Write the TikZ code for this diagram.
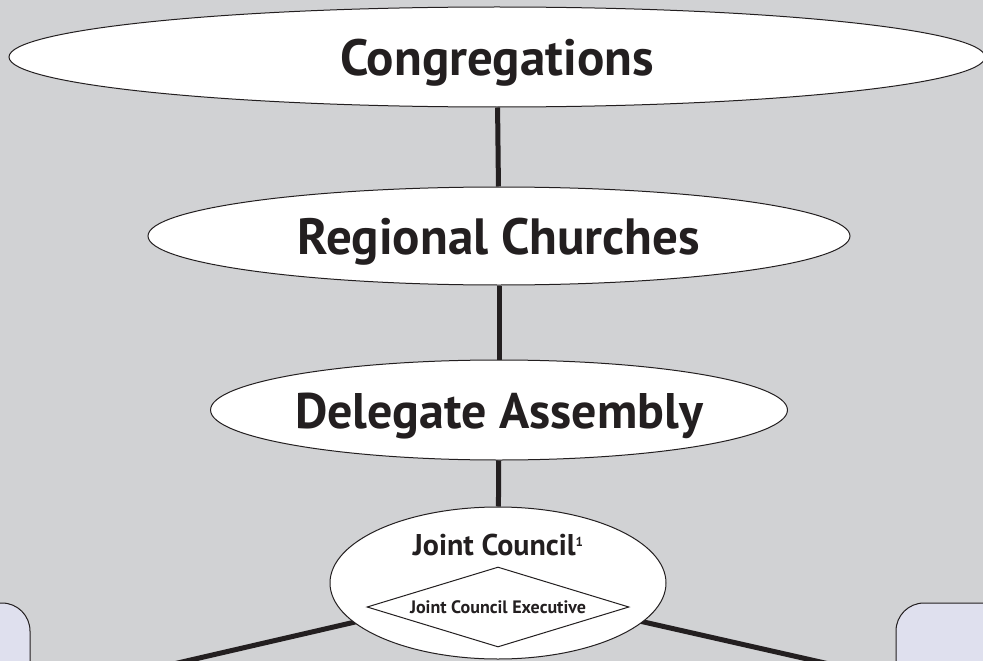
\documentclass[tikz,border=0pt]{standalone}
\usepackage{fontspec}
\setmainfont{PT Sans}
\usepackage{tikz}
\usetikzlibrary{shapes.geometric}
\definecolor{bgpanel}{RGB}{209,210,212}
\definecolor{ink}{RGB}{35,31,32}
\definecolor{boxfill}{RGB}{223,224,238}

\begin{document}
\begin{tikzpicture}[x=1pt, y=-1pt,
  level/.style={ellipse, draw=ink, line width=1pt, fill=white, inner sep=0pt,
    text=ink, text height=36pt, text depth=0pt, font=\fontsize{51}{51}\selectfont\bfseries},
  link/.style={draw=ink, line width=5pt},
  sidebox/.style={draw=ink, line width=1pt, fill=boxfill, rounded corners=28pt, inner sep=0pt}]
  \path[use as bounding box, fill=bgpanel] (0,0) rectangle (983,661);
  \clip (0,0) rectangle (983,661);
  % Levels
  \node[level, minimum width=976, minimum height=100] (cong) at (497,57) {Congregations};
  \node[level, minimum width=702, minimum height=98] (reg) at (499,236) {Regional Churches};
  \node[level, minimum width=522, minimum height=100, font=\fontsize{50}{50}\selectfont\bfseries] (del) at (499,410) {Delegate Assembly};
  \draw[link] (cong) -- (reg);
  \draw[link] (reg) -- (del);
  % Side boxes
  \node[sidebox, minimum width=160, minimum height=188] (lbox) at (-50,697) {};
  \node[sidebox, minimum width=160, minimum height=152] (rbox) at (976,679) {};
  \coordinate (jcfoot) at (498,589);
  \draw[link] (jcfoot) -- (lbox.east);
  \draw[link] (jcfoot) -- (rbox.west);
  % Joint Council
  \node[level, minimum width=336, minimum height=152] (jc) at (498,583) {};
  \draw[link] (del) -- (jc);
  \node[text=ink, font=\fontsize{30}{30}\selectfont\bfseries] (jclabel) at (498,545)
    {Joint Council\raisebox{9pt}{\fontsize{13}{13}\selectfont 1}};
  \node[diamond, aspect=3.275, draw=ink, line width=1pt, fill=white, minimum width=262, minimum height=80,
    inner sep=0pt, text=ink, font=\fontsize{18}{18}\selectfont\bfseries] (jcexec) at (498,607) {Joint Council Executive};
\end{tikzpicture}
\end{document}
